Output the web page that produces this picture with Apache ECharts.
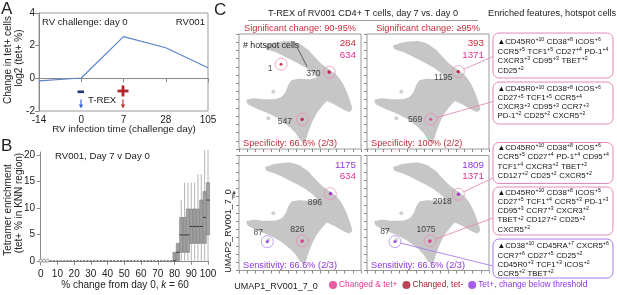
<!DOCTYPE html>
<html><head><meta charset="utf-8">
<script src="https://cdn.jsdelivr.net/npm/echarts@6/dist/echarts.min.js"></script>
<style>html,body{margin:0;padding:0;background:#fff}#c{width:617px;height:295px}</style>
</head><body><div id="c"></div>
<script>
const FONT = "'Liberation Sans', Arial, Helvetica, sans-serif";

// ---------- Panel A data ----------
const aDays = ['-14', '0', '7', '28', '105'];
const aLog2Change = [-0.15, 0.02, 2.55, 1.87, 0.65];

// ---------- Panel B data ----------
const bZeroX = [0,2,4,6,8,10,12,14,16,18,20,22,24,26,28,30,32,34,36,38,40,42,44,46,48,50,52,54,56,58,60,62,64,66,68,70,72,74,76,78];
const bOutlierX = [0, 2, 4];
const bOutlierY = [0, 0, 0];
const bBoxX  = [80, 82, 84, 86, 88, 90, 92, 94, 96, 98, 100];
const bLow   = [0, 0, 0, 0, 0, 0, 0, 0, 0, 0, 0];
const bQ1    = [0, 0, 1.6, 1.6, 1.6, 3.3, 3.3, 3.3, 3.3, 3.3, 4.9];
const bMed   = [0, 1.6, 4.9, 4.9, 4.9, 6.5, 6.5, 6.5, 6.5, 8.2, 11.5];
const bQ3    = [1.6, 3.3, 8.2, 8.2, 9.8, 9.8, 9.8, 9.8, 11.5, 13.1, 14.8];
const bHigh  = [1.6, 3.3, 11.5, 14.8, 14.8, 14.8, 14.8, 16.4, 16.4, 21, 21];

// ---------- Panel C data ----------
const umapOutline = [
  [3.20,12.55],[4.43,12.99],[6.27,13.15],[7.50,12.79],[8.53,12.06],[9.35,11.17],[10.17,10.35],
  [11.07,9.71],[12.02,9.01],[12.71,8.08],[13.25,6.98],[13.65,5.88],[13.94,4.84],[13.53,4.51],
  [12.63,4.91],[11.60,5.48],[10.79,5.81],[10.25,5.24],[9.56,4.35],[9.02,3.33],[8.61,2.31],
  [8.33,1.43],[8.03,0.77],[7.50,1.10],[6.97,1.91],[6.27,2.64],[5.25,3.45],[3.81,4.26],
  [2.18,4.91],[1.07,5.48],[0.90,5.97],[1.76,6.18],[3.20,6.05],[4.43,6.09],[5.25,6.37],
  [5.74,6.98],[6.06,7.80],[6.48,8.40],[7.50,8.56],[8.73,8.49],[9.56,8.73],[9.02,9.29],
  [8.12,9.95],[6.89,10.63],[5.66,11.24],[4.43,11.81],[3.41,12.14]
];
const umapIslands = [[4.22, 6.98], [3.61, 3.74]];
const cTitles = ['Significant change: 90-95%', 'Significant change: \u226595%'];
const cHotspots = [
  [[5.17, 10.32], [11.11, 9.34], [7.79, 3.62]],
  [[11.23, 9.42], [7.83, 3.62]],
  [[11.23, 9.35], [7.79, 3.60], [3.48, 3.51]],
  [[11.23, 9.28], [7.75, 3.60], [3.44, 3.51]]
];
const cHotspotCells = [['1', '370', '547'], ['1195', '569'], ['896', '826', '87'], ['2018', '1075', '87']];
const cHotspotType = [['chg', 'chg', 'chg'], ['chg', 'chg'], ['chg', 'chg', 'tet'], ['chg', 'chg', 'tet']];
const cCellsChangedTetPos = [
  [[11.12, 9.30], [7.80, 3.64]],
  [[11.25, 9.40], [7.83, 3.62]],
  [[11.22, 9.33], [7.80, 3.62], [7.74, 3.55]],
  [[11.22, 9.27], [7.76, 3.62], [7.70, 3.55]]
];
const cCellsChangedTetNeg = [
  [[5.17, 10.32], [11.05, 9.40], [7.74, 3.58]],
  [[11.20, 9.45]],
  [],
  []
];
const cCellsTetBelow = [
  [],
  [],
  [[11.28, 9.38], [3.48, 3.51]],
  [[11.28, 9.31], [3.44, 3.51]]
];
const cCountTop = ['284', '393', '1175', '1809'];
const cCountBottom = ['634', '1371', '634', '1371'];
const cFooter = ['Specificity: 66.6% (2/3)', 'Specificity: 100% (2/2)', 'Sensitivity: 66.6% (2/3)', 'Sensitivity: 66.6% (2/3)'];
const cFeatures = [
  ['\u25B2CD45R0^+10 CD38^+8 ICOS^+6', 'CCR5^+5 TCF1^+5 CD27^+4 PD-1^+4', 'CXCR3^+3 CD95^+3 TBET^+2', 'CD25^+2'],
  ['\u25B2CD45R0^+10 CD38^+8 ICOS^+6', 'CD27^+5 TCF1^+5 CCR5^+4', 'CXCR3^+3 CD95^+3 CCR7^+3', 'PD-1^+2 CD25^+2 CXCR5^+2'],
  ['\u25B2CD45R0^+10 CD38^+8 ICOS^+6', 'CCR5^+5 CD27^+4 PD-1^+4 CD95^+4', 'TCF1^+4 CXCR3^+2 TBET^+2', 'CD127^+2 CD25^+2 CXCR5^+2'],
  ['\u25B2CD45R0^+10 CD38^+8 ICOS^+5', 'CD27^+5 TCF1^+4 CCR5^+3 PD-1^+3', 'CD95^+3 CCR7^+3 CXCR3^+2', 'TBET^+2 CD127^+2 CD25^+2', 'CXCR5^+2'],
  ['\u25B2CD38^+10 CD45RA^+7 CXCR5^+6', 'CCR7^+6 CD27^+5 CD25^+2', 'CD45R0^+3 TCF1^+3 ICOS^+2', 'CCR5^+2 TBET^+2']
];
const cFeatureSource = [[1, 0], [1, 1], [3, 0], [3, 1], [3, 2]];

// ---------- styling / layout ----------
const RED = '#c42d3a', MAG = '#e2338c', DRED = '#a8182c', VIO = '#9035e6';
const PINK_LINE = '#e58ab8', VIO_LINE = '#a87ae6';
const GRAY_AX = '#8a8a8a';
const umapGrids = [
  {left: 239, top: 34, width: 122, height: 115},
  {left: 367, top: 34, width: 122, height: 115},
  {left: 239, top: 155.5, width: 122, height: 115},
  {left: 367, top: 155.5, width: 122, height: 115}
];
const hotLabelOffset = [
  [[-11, 4], [-16, 1], [-17.5, 2.5]],
  [[-15, 6.5], [-15.5, 0]],
  [[-15.5, 8.5], [-5, -11], [-9, -9]],
  [[-16, 7.5], [-4, -11], [-10, -10]]
];
const boxRects = [
  {x: 493, y: 33, w: 120, h: 45, top: 37.5, lh: 9.5, stroke: PINK_LINE},
  {x: 493, y: 82, w: 120, h: 42, top: 84.8, lh: 8.9, stroke: PINK_LINE},
  {x: 493, y: 142.5, w: 120, h: 41, top: 142.8, lh: 9.5, stroke: PINK_LINE},
  {x: 493, y: 187, w: 120, h: 48, top: 188, lh: 9.2, stroke: PINK_LINE},
  {x: 493, y: 239, w: 120, h: 39, top: 241.3, lh: 9.4, stroke: VIO_LINE}
];
const boxAnchors = [[493, 56.5], [493, 101.5], [493, 178], [493, 218], [493, 266]];
const TXT = 9.2;

const chart = echarts.init(document.getElementById('c'), null, {renderer: 'canvas'});

const grids = [
  {left: 39, top: 13, width: 169, height: 98, show: true, borderColor: '#9a9a9a', borderWidth: 1},
  {left: 39, top: 152, width: 169, height: 113}
].concat(umapGrids.map(g => Object.assign({show: true, borderColor: '#9a9a9a', borderWidth: 1}, g)));

const axLabel = {color: '#222', fontSize: 10, fontFamily: FONT};
const xAxes = [
  {gridIndex: 0, type: 'category', data: aDays, boundaryGap: false,
   axisLine: {lineStyle: {color: GRAY_AX}}, axisTick: {alignWithLabel: true, length: 4, lineStyle: {color: GRAY_AX}},
   axisLabel: Object.assign({margin: 4}, axLabel), splitLine: {show: false}},
  {gridIndex: 1, type: 'value', min: -1, max: 100,
   axisLine: {lineStyle: {color: GRAY_AX}}, axisTick: {length: 4, lineStyle: {color: GRAY_AX}, customValues: [0,10,20,30,40,50,60,70,80,90,100]},
   axisLabel: Object.assign({margin: 4, customValues: [0,10,20,30,40,50,60,70,80,90,100]}, axLabel), splitLine: {show: false}}
];
const yAxes = [
  {gridIndex: 0, type: 'value', min: -2, max: 4, interval: 2,
   axisLine: {show: true, lineStyle: {color: GRAY_AX}}, axisTick: {show: true, length: 4, lineStyle: {color: GRAY_AX}},
   axisLabel: Object.assign({margin: 4}, axLabel), splitLine: {show: false}},
  {gridIndex: 1, type: 'value', min: -0.8, max: 20.6,
   axisLine: {show: true, lineStyle: {color: GRAY_AX}}, axisTick: {show: true, length: 4, lineStyle: {color: GRAY_AX}, customValues: [0,5,10,15,20]},
   axisLabel: Object.assign({margin: 4, customValues: [0,5,10,15,20]}, axLabel), splitLine: {show: false}}
];
for (let i = 0; i < 4; i++) {
  xAxes.push({gridIndex: i + 2, type: 'value', min: 0, max: 15, interval: 1,
    axisLine: {show: false}, axisTick: {show: true, length: 3, lineStyle: {color: GRAY_AX}},
    axisLabel: {show: false}, splitLine: {show: false}});
  yAxes.push({gridIndex: i + 2, type: 'value', min: 0, max: 14, interval: 1,
    axisLine: {show: false}, axisTick: {show: true, length: 3, lineStyle: {color: GRAY_AX}},
    axisLabel: {show: false}, splitLine: {show: false}});
}

const series = [];
series.push({type: 'line', xAxisIndex: 0, yAxisIndex: 0, data: aLog2Change, symbol: 'none',
  lineStyle: {color: '#5a86cc', width: 1.2}, silent: true});

series.push({type: 'custom', xAxisIndex: 1, yAxisIndex: 1, silent: true,
  data: bZeroX.map(x => [x, 0]),
  renderItem: (p, api) => {
    const c = api.coord([api.value(0), api.value(1)]);
    return {type: 'rect', shape: {x: c[0] - 1, y: c[1] - 0.6, width: 2, height: 1.3}, style: {fill: '#666'}};
  }});
series.push({type: 'scatter', xAxisIndex: 1, yAxisIndex: 1, silent: true, symbol: 'circle', symbolSize: 3.4,
  data: bOutlierX.map((x, i) => [x, bOutlierY[i]]),
  itemStyle: {color: '#fff', borderColor: '#777', borderWidth: 0.8}});
series.push({type: 'custom', xAxisIndex: 1, yAxisIndex: 1, silent: true,
  data: bBoxX.map((x, i) => [x, bLow[i], bQ1[i], bMed[i], bQ3[i], bHigh[i]]),
  renderItem: (p, api) => {
    const x = api.value(0);
    const lo = api.coord([x, api.value(1)]), q1 = api.coord([x, api.value(2)]),
          md = api.coord([x, api.value(3)]), q3 = api.coord([x, api.value(4)]), hi = api.coord([x, api.value(5)]);
    const w = 3.2;
    return {type: 'group', children: [
      {type: 'line', shape: {x1: lo[0], y1: lo[1], x2: hi[0], y2: hi[1]}, style: {stroke: '#b4b4b4', lineWidth: 1}},
      {type: 'rect', shape: {x: q1[0] - w / 2, y: q3[1], width: w, height: Math.max(q1[1] - q3[1], 1.2)},
       style: {fill: '#a0a0a0', stroke: '#7c7c7c', lineWidth: 0.6}},
      {type: 'line', shape: {x1: md[0] - w / 2, y1: md[1], x2: md[0] + w / 2, y2: md[1]}, style: {stroke: '#333', lineWidth: 1}}
    ]};
  }});

for (let i = 0; i < 4; i++) {
  const ax = i + 2;
  series.push({type: 'custom', xAxisIndex: ax, yAxisIndex: ax, silent: true, data: [[0, 0]], z: 1,
    renderItem: (p, api) => ({type: 'polygon', shape: {points: umapOutline.map(pt => api.coord(pt)), smooth: 0.12},
      style: {fill: '#c6c6c6'}})});
  series.push({type: 'scatter', xAxisIndex: ax, yAxisIndex: ax, silent: true, symbolSize: 4, z: 1,
    data: umapIslands, itemStyle: {color: '#c6c6c6'}});
  series.push({type: 'scatter', xAxisIndex: ax, yAxisIndex: ax, silent: true, symbolSize: 12, z: 4,
    data: cHotspots[i].map((pt, j) => ({
      value: pt,
      itemStyle: {color: 'rgba(0,0,0,0)', borderWidth: 0.9, borderColor: cHotspotType[i][j] === 'tet' ? VIO_LINE : PINK_LINE},
      label: {show: true, position: 'inside', offset: hotLabelOffset[i][j], formatter: cHotspotCells[i][j],
        color: '#1a1a1a', fontSize: 8.6, fontFamily: FONT}
    }))});
  series.push({name: 'Changed & tet+', type: 'scatter', xAxisIndex: ax, yAxisIndex: ax, silent: true, symbolSize: 3.2, z: 5,
    data: cCellsChangedTetPos[i], itemStyle: {color: MAG}});
  series.push({name: 'Changed, tet-', type: 'scatter', xAxisIndex: ax, yAxisIndex: ax, silent: true, symbolSize: 3, z: 5,
    data: cCellsChangedTetNeg[i], itemStyle: {color: DRED}});
  series.push({name: 'Tet+, change below threshold', type: 'scatter', xAxisIndex: ax, yAxisIndex: ax, silent: true, symbolSize: 3.2, z: 5,
    data: cCellsTetBelow[i], itemStyle: {color: VIO}});
}

chart.setOption({
  animation: false,
  backgroundColor: '#fff',
  textStyle: {fontFamily: FONT},
  grid: grids,
  xAxis: xAxes,
  yAxis: yAxes,
  legend: {left: 329, top: 281, itemWidth: 8, itemHeight: 8, itemGap: 5, icon: 'circle', padding: 0,
    textStyle: {fontSize: 8.4, fontFamily: FONT, padding: [0, 0, 0, -3]}, selectedMode: false,
    data: [
      {name: 'Changed & tet+', textStyle: {color: MAG}},
      {name: 'Changed, tet-', textStyle: {color: DRED}},
      {name: 'Tet+, change below threshold', textStyle: {color: VIO}}
    ]},
  series: series
});

const G = [];
function txt(x, y, s, o) {
  G.push({type: 'text', x: x, y: y, z: 100, silent: true, rotation: (o && o.rot) || 0,
    style: Object.assign({text: s, fill: '#222', fontSize: TXT, fontFamily: FONT, align: 'left', verticalAlign: 'middle'}, o || {})});
}
function shp(o) { o.z = 100; o.silent = true; G.push(o); }
txt(1, 9, 'A', {fontSize: 17});
txt(1, 146, 'B', {fontSize: 17});
txt(214, 10, 'C', {fontSize: 17});
txt(42, 22, 'RV challenge: day 0', {fontSize: 9.6});
txt(205, 22, 'RV001', {fontSize: 9.6, align: 'right'});
txt(8, 60, 'Change in tet+ cells', {fontSize: 10, align: 'center', rot: Math.PI / 2});
txt(19.5, 58, 'log2 (tet+ %)', {fontSize: 10, align: 'center', rot: Math.PI / 2});
txt(124, 129, 'RV infection time (challenge day)', {fontSize: 9.8, align: 'center'});
shp({type: 'rect', shape: {x: 77.5, y: 90.5, width: 6.5, height: 2.6}, style: {fill: '#25307a'}});
shp({type: 'rect', shape: {x: 117.5, y: 89.6, width: 11, height: 2.8}, style: {fill: '#b3262b'}});
shp({type: 'rect', shape: {x: 121.6, y: 85.5, width: 2.8, height: 11}, style: {fill: '#b3262b'}});
function arrow(x, y1, y2, col) {
  shp({type: 'line', shape: {x1: x, y1: y1, x2: x, y2: y2 - 3}, style: {stroke: col, lineWidth: 1.2}});
  shp({type: 'polygon', shape: {points: [[x - 2.2, y2 - 4], [x + 2.2, y2 - 4], [x, y2]]}, style: {fill: col}});
}
arrow(81, 99.5, 108.5, '#3a66e0');
arrow(123, 99.5, 108.5, '#c0302e');
txt(88, 100, 'T-REX', {fontSize: 9.6});
txt(55, 156, 'RV001, Day 7 v Day 0', {fontSize: 9.6});
txt(8, 210, 'Tetramer enrichment', {fontSize: 10, align: 'center', rot: Math.PI / 2});
txt(19.5, 203, '(tet+ % in KNN region)', {fontSize: 10, align: 'center', rot: Math.PI / 2});
shp({type: 'text', x: 125, y: 285, style: {
  text: '% change from day 0, {i|k} = 60', fontSize: 10, fontFamily: FONT, fill: '#222', align: 'center', verticalAlign: 'middle',
  rich: {i: {fontStyle: 'italic', fontSize: 10, fontFamily: FONT, fill: '#222'}}}});
txt(363, 13, 'T-REX of RV001 CD4+ T cells, day 7 vs. day 0', {align: 'center'});
shp({type: 'line', shape: {x1: 248, y1: 20.5, x2: 478, y2: 20.5}, style: {stroke: '#999', lineWidth: 1}});
txt(488, 13, 'Enriched features, hotspot cells');
txt(300, 28.5, cTitles[0], {align: 'center', fill: RED});
txt(428, 28.5, cTitles[1], {align: 'center', fill: RED});
const topColors = [RED, RED, VIO, VIO];
const footColors = [RED, RED, VIO, VIO];
for (let i = 0; i < 4; i++) {
  const g = umapGrids[i];
  const r = g.left + g.width - 5;
  txt(r, g.top + 9.5, cCountTop[i], {fontSize: 9.8, align: 'right', fill: topColors[i]});
  txt(r, g.top + 21, cCountBottom[i], {fontSize: 9.8, align: 'right', fill: MAG});
  txt(g.left + 4, g.top + 109.5, cFooter[i], {fill: footColors[i]});
}
txt(243, 45.5, '# hotspot cells', {fontSize: 8.8});
shp({type: 'line', shape: {x1: 297.5, y1: 48, x2: 307, y2: 66.5}, style: {stroke: '#444', lineWidth: 0.8}});
txt(276, 287, 'UMAP1_RV001_7_0', {fontSize: 9, align: 'center'});
txt(229, 231, 'UMAP2_RV001_7_0', {fontSize: 9, align: 'center', rot: Math.PI / 2});
shp({type: 'line', shape: {x1: 234, y1: 193, x2: 234, y2: 198}, style: {stroke: '#444', lineWidth: 0.8}});
shp({type: 'polygon', shape: {points: [[232.3, 194], [235.7, 194], [234, 190.5]]}, style: {fill: '#444'}});

for (let b = 0; b < boxRects.length; b++) {
  const br = boxRects[b];
  shp({type: 'rect', shape: {x: br.x, y: br.y, width: br.w, height: br.h, r: 6},
    style: {fill: 'none', stroke: br.stroke, lineWidth: 1}});
  const richText = cFeatures[b].map(line => line.split(' ').map(tok => tok.replace(/\^(\S+)/, '{s|$1}')).join(' ')).join('\n');
  shp({type: 'text', x: br.x + 4.5, y: br.top, style: {
    text: richText, fontSize: 7.8, fontFamily: FONT, fill: '#111', lineHeight: br.lh, align: 'left', verticalAlign: 'top',
    rich: {s: {fontSize: 5.2, fontFamily: FONT, fill: '#111', lineHeight: br.lh, verticalAlign: 'top', padding: [0, 0.4, 3, 0.3]}}}});
  const src = cFeatureSource[b];
  const c = chart.convertToPixel({gridIndex: src[0] + 2}, cHotspots[src[0]][src[1]]);
  const e = boxAnchors[b];
  const dx = e[0] - c[0], dy = e[1] - c[1], L = Math.sqrt(dx * dx + dy * dy);
  shp({type: 'line', shape: {x1: c[0] + dx / L * 6, y1: c[1] + dy / L * 6, x2: e[0], y2: e[1]},
    style: {stroke: br.stroke, lineWidth: 0.9}});
}
chart.setOption({graphic: {elements: G}});
</script></body></html>
